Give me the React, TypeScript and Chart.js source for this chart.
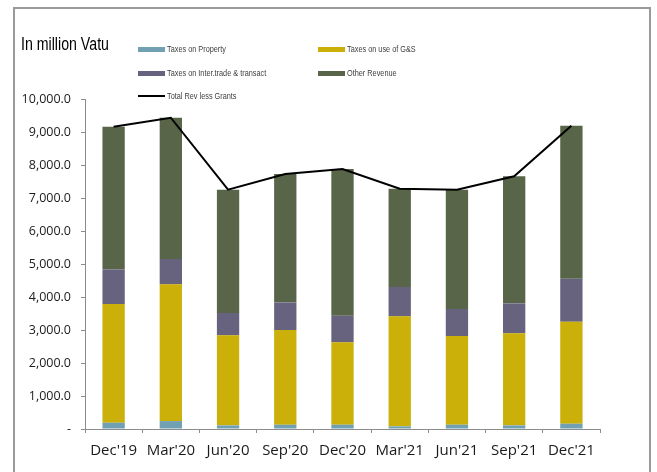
import React, { useEffect, useRef } from "react";
import { Chart, registerables } from "chart.js";

Chart.register(...registerables);

const categories = ["Dec'19", "Mar'20", "Jun'20", "Sep'20", "Dec'20", "Mar'21", "Jun'21", "Sep'21", "Dec'21"];
const taxesOnProperty = [190, 240, 110, 130, 130, 80, 130, 110, 160];
const taxesOnGS = [3598, 4144, 2728, 2870, 2496, 3334, 2688, 2789, 3092];
const taxesOnTrade = [1051, 768, 677, 838, 808, 889, 818, 909, 1303];
const otherRevenue = [4321, 4281, 3737, 3889, 4445, 2979, 3616, 3849, 4636];
const totalRevLessGrants = [9160, 9433, 7252, 7727, 7879, 7282, 7252, 7657, 9191];

const seriesNames = [
  "Taxes on Property",
  "Taxes on use of G&S",
  "Taxes on Inter.trade & transact",
  "Other Revenue",
  "Total Rev less Grants",
];
const seriesColors = ["#70a0b2", "#ccb00a", "#67637f", "#586549", "#000000"];

const yMin = 0;
const yMax = 10000;
const yStep = 1000;

const fmt = new Intl.NumberFormat("en-US", { minimumFractionDigits: 1, maximumFractionDigits: 1 });

const textFont = "'Liberation Sans', Arial, sans-serif";
const tickFont = "'Open Sans', 'Liberation Sans', sans-serif";

export default function App() {
  const canvasRef = useRef<HTMLCanvasElement | null>(null);

  useEffect(() => {
    if (!canvasRef.current) return;
    const chart = new Chart(canvasRef.current, {
      type: "bar",
      data: {
        labels: categories,
        datasets: [
          {
            type: "line",
            label: seriesNames[4],
            data: totalRevLessGrants,
            borderColor: seriesColors[4],
            backgroundColor: seriesColors[4],
            borderWidth: 2,
            pointRadius: 0,
            tension: 0,
            stack: "line",
            order: 0,
          } as any,
          { label: seriesNames[0], data: taxesOnProperty, backgroundColor: seriesColors[0], stack: "bars", order: 1 },
          { label: seriesNames[1], data: taxesOnGS, backgroundColor: seriesColors[1], stack: "bars", order: 1 },
          { label: seriesNames[2], data: taxesOnTrade, backgroundColor: seriesColors[2], stack: "bars", order: 1 },
          { label: seriesNames[3], data: otherRevenue, backgroundColor: seriesColors[3], stack: "bars", order: 1 },
        ],
      },
      options: {
        animation: false,
        responsive: true,
        maintainAspectRatio: false,
        datasets: { bar: { barPercentage: 0.39, categoryPercentage: 1 } },
        layout: { padding: { top: 99, right: 57, bottom: 0, left: 0 } },
        plugins: { legend: { display: false }, tooltip: { enabled: false }, title: { display: false } },
        scales: {
          x: {
            stacked: true,
            grid: { drawOnChartArea: false, drawTicks: true, tickLength: 4, color: "#8c8c8c", offset: true },
            border: { display: true, color: "#8c8c8c", width: 1 },
            ticks: { color: "#1a1a1a", font: { family: tickFont, size: 15 }, padding: 9, maxRotation: 0 },
            afterFit: (s: any) => {
              s.height = 43;
            },
          },
          y: {
            stacked: true,
            min: yMin,
            max: yMax,
            grid: { drawOnChartArea: false, drawTicks: true, tickLength: 4, color: "#8c8c8c" },
            border: { display: true, color: "#8c8c8c", width: 1 },
            ticks: {
              stepSize: yStep,
              color: "#1a1a1a",
              font: { family: tickFont, size: 12.5 },
              padding: 10,
              callback: (v: any) => (Number(v) === 0 ? "-" : fmt.format(Number(v))),
            },
            afterFit: (s: any) => {
              s.width = 85;
            },
          },
        },
      },
    });
    return () => chart.destroy();
  }, []);

  const legendText: React.CSSProperties = {
    position: "absolute",
    fontFamily: textFont,
    fontSize: 9.5,
    color: "#404040",
    lineHeight: "12px",
    whiteSpace: "nowrap",
    transform: "scaleX(0.77)",
    transformOrigin: "left center",
  };
  const items = [
    { name: seriesNames[0], color: seriesColors[0], x: 138, y: 49, line: false },
    { name: seriesNames[1], color: seriesColors[1], x: 318, y: 49, line: false },
    { name: seriesNames[2], color: seriesColors[2], x: 138, y: 73, line: false },
    { name: seriesNames[3], color: seriesColors[3], x: 318, y: 73, line: false },
    { name: seriesNames[4], color: seriesColors[4], x: 138, y: 96, line: true },
  ];

  return (
    <div style={{ position: "absolute", left: 0, top: 0, width: 657, height: 472, overflow: "hidden", background: "#fff" }}>
      <canvas ref={canvasRef} />
      <div
        style={{
          position: "absolute",
          left: 13,
          top: 7,
          width: 638,
          height: 500,
          border: "2px solid #9a9a9a",
          boxSizing: "border-box",
          pointerEvents: "none",
        }}
      />
      <div
        style={{
          position: "absolute",
          left: 21,
          top: 33,
          fontFamily: textFont,
          fontSize: 17.5,
          color: "#000",
          lineHeight: "22px",
          whiteSpace: "nowrap",
          transform: "scaleX(0.81)",
          transformOrigin: "left center",
        }}
      >
        In million Vatu
      </div>
      {items.map((it) => (
        <React.Fragment key={it.name}>
          <div
            style={{
              position: "absolute",
              left: it.x,
              top: it.line ? it.y - 1 : it.y - 2.5,
              width: 27,
              height: it.line ? 2 : 5,
              background: it.color,
            }}
          />
          <div style={{ ...legendText, left: it.x + 29, top: it.y - 6 }}>{it.name}</div>
        </React.Fragment>
      ))}
    </div>
  );
}
